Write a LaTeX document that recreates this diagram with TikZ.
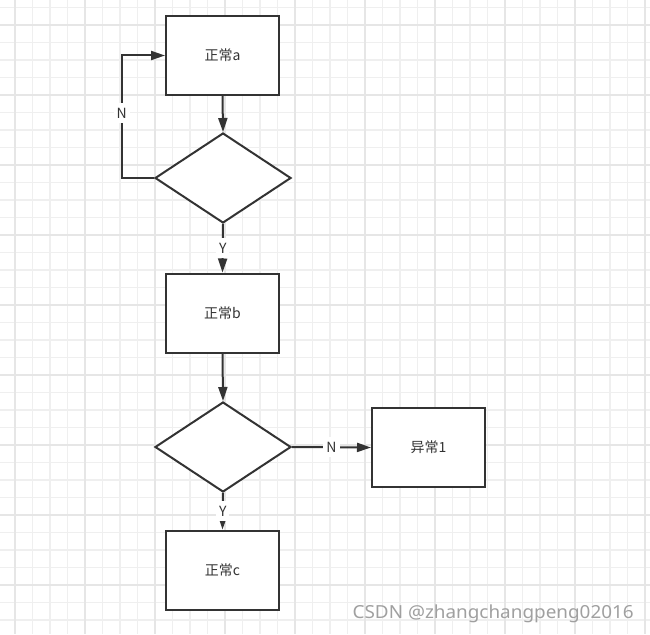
\documentclass[tikz,border=0pt]{standalone}
\usepackage{fontspec}
\newfontfamily\cjk{Noto Sans CJK SC}
\newfontfamily\wmfont{Noto Sans}
\usetikzlibrary{shapes.geometric,arrows.meta}
\definecolor{ink}{HTML}{333333}
\definecolor{gridminor}{HTML}{EFEFEF}
\definecolor{gridmajor}{HTML}{E6E6E6}
\definecolor{wm}{HTML}{A0A0A0}
\tikzset{
  box/.style={draw=ink, line width=2pt, rectangle, minimum width=113pt, minimum height=79pt, inner sep=0pt, fill=white, font=\cjk\fontsize{14}{16}\selectfont, text=ink},
  decide/.style={draw=ink, line width=2pt, diamond, minimum width=136pt, minimum height=90pt, inner sep=0pt, fill=white},
  conn/.style={draw=ink, line width=2pt, -{Triangle[length=14pt,width=9pt]}},
  lbl/.style={fill=white, text=ink, inner xsep=3pt, inner ysep=5pt, font=\cjk\fontsize{14}{16}\selectfont}
}
\begin{document}
\begin{tikzpicture}[x=1pt,y=-1pt]
\useasboundingbox (0,0) rectangle (650,634);
\fill[white] (0,0) rectangle (650,634);
% grid
\foreach \k in {0,...,36}{
  \pgfmathsetmacro{\xx}{15+17.5*\k}
  \draw[gridminor, line width=1.2pt] (\xx,0) -- (\xx,634);
}
\foreach \k in {0,...,35}{
  \pgfmathsetmacro{\yy}{7.5+17.5*\k}
  \draw[gridminor, line width=1.2pt] (0,\yy) -- (650,\yy);
}
\foreach \k in {0,...,9}{
  \pgfmathsetmacro{\xx}{15+70*\k}
  \draw[gridmajor, line width=1.2pt] (\xx,0) -- (\xx,634);
}
\foreach \k in {0,...,8}{
  \pgfmathsetmacro{\yy}{25+70*\k}
  \draw[gridmajor, line width=1.2pt] (0,\yy) -- (650,\yy);
}
% nodes
\node[box] (a) at (222.5,55.5) {正常a};
\node[decide] (d1) at (223,178) {};
\node[box] (b) at (222.5,313) {正常b};
\node[decide] (d2) at (223,447) {};
\node[box] (e) at (428.5,447.5) {异常1};
\node[box] (c) at (222.5,570) {正常c};
\coordinate (l1) at (121.7,178);
\coordinate (l2) at (121.7,55.5);
% connectors
\draw[conn] (a.south) -- (d1.north);
\draw[conn] (d1.west) -- (l1) -- node[lbl, pos=0.53] (nlab) {N} (l2) -- (a.west);
\draw[conn] (d1.south) -- node[lbl] (ylab1) {Y} (b.north);
\draw[conn] (b.south) -- (d2.north);
\draw[conn] (d2.east) -- node[lbl, pos=0.5] (nlab2) {N} (e.west);
\draw[conn] (d2.south) -- node[lbl] (ylab2) {Y} (c.north);
% watermark
\node[anchor=east, text=wm, font=\wmfont\fontsize{18}{20}\selectfont, inner sep=0pt, xscale=1.05] (wmk) at (634,614) {CSDN @zhangchangpeng02016};
\end{tikzpicture}
\end{document}
